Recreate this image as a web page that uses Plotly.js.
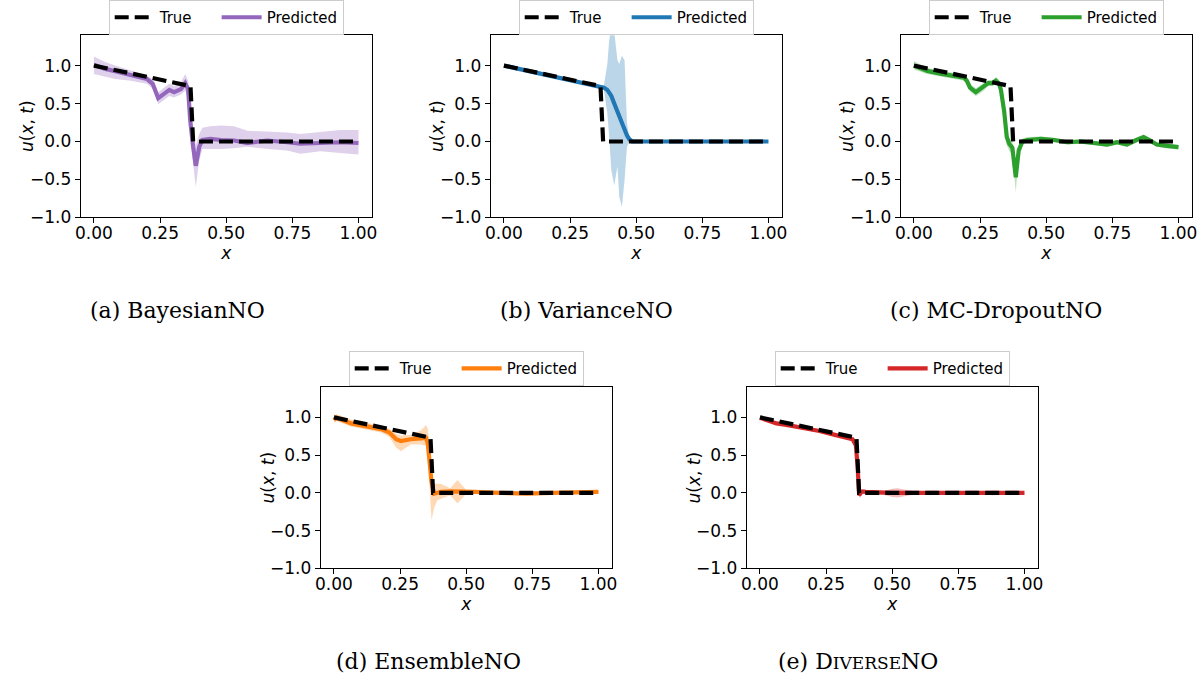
<!DOCTYPE html>
<html><head><meta charset="utf-8">
<script src="https://cdn.plot.ly/plotly-3.0.1.min.js"></script>
<style>html,body{margin:0;padding:0;background:#fff}#chart{width:1202px;height:681px}</style>
</head><body><div id="chart"></div>
<script>
const xTickVals = [0, 0.25, 0.5, 0.75, 1.0];
const xTickText = ['0.00', '0.25', '0.50', '0.75', '1.00'];
const yTickVals = [-1, -0.5, 0, 0.5, 1];
const yTickText = ['\u22121.0', '\u22120.5', '0.0', '0.5', '1.0'];

// True solution
const trueX = [0, 0.365, 0.375, 1.0];
const trueU = [1.0, 0.73, 0.0, 0.0];

// (a) BayesianNO
const bayesX = [0, 0.04, 0.08, 0.14, 0.2, 0.222, 0.243, 0.266, 0.285, 0.303, 0.329, 0.345, 0.356, 0.364, 0.37, 0.375, 0.385, 0.398, 0.41, 0.44, 0.48, 0.53, 0.58, 0.655, 0.73, 0.78, 0.856, 0.93, 1.0];
const bayesMean = [1.01, 0.96, 0.925, 0.88, 0.825, 0.76, 0.57, 0.63, 0.68, 0.65, 0.69, 0.77, 0.69, 0.28, 0.05, -0.07, -0.32, -0.07, 0.02, 0.035, 0.02, 0.013, -0.02, 0.013, -0.01, -0.03, -0.02, -0.01, -0.02];
const bayesUpper = [1.12, 1.05, 1.0, 0.93, 0.87, 0.82, 0.65, 0.71, 0.76, 0.73, 0.78, 0.89, 0.80, 0.45, 0.25, 0.1, -0.05, 0.1, 0.18, 0.2, 0.21, 0.2, 0.14, 0.13, 0.12, 0.1, 0.13, 0.15, 0.15];
const bayesLower = [0.89, 0.86, 0.825, 0.8, 0.76, 0.70, 0.49, 0.55, 0.6, 0.58, 0.62, 0.67, 0.55, 0.1, -0.15, -0.3, -0.6, -0.25, -0.1, -0.1, -0.1, -0.09, -0.07, -0.1, -0.12, -0.16, -0.13, -0.15, -0.17];

// (b) VarianceNO
const varX = [0, 0.1, 0.2, 0.3, 0.365, 0.378, 0.391, 0.397, 0.406, 0.417, 0.429, 0.436, 0.446, 0.456, 0.465, 0.474, 0.485, 0.5, 0.6, 0.7, 0.8, 0.9, 1.0];
const varMean = [1.0, 0.925, 0.85, 0.775, 0.73, 0.71, 0.68, 0.65, 0.60, 0.50, 0.39, 0.33, 0.24, 0.15, 0.08, 0.03, 0.0, 0, 0, 0, 0, 0, 0];
const varUpper = [1.01, 0.935, 0.86, 0.785, 0.74, 0.74, 1.02, 1.3, 1.55, 1.45, 1.07, 1.02, 1.13, 1.07, 0.25, 0.05, 0.01, 0.005, 0.005, 0.005, 0.005, 0.005, 0.005];
const varLower = [0.99, 0.915, 0.84, 0.765, 0.72, 0.68, 0.37, 0.1, -0.38, -0.58, -0.33, -0.73, -0.86, -0.51, -0.07, -0.01, -0.005, -0.005, -0.005, -0.005, -0.005, -0.005, -0.005];

// (c) MC-DropoutNO
const mcX = [0, 0.05, 0.1, 0.15, 0.19, 0.2, 0.212, 0.234, 0.26, 0.281, 0.297, 0.31, 0.322, 0.329, 0.341, 0.351, 0.36, 0.372, 0.385, 0.396, 0.41, 0.43, 0.48, 0.53, 0.58, 0.63, 0.68, 0.73, 0.768, 0.805, 0.837, 0.868, 0.893, 0.918, 0.956, 1.0];
const mcMean = [1.0, 0.93, 0.895, 0.865, 0.84, 0.80, 0.71, 0.65, 0.71, 0.77, 0.77, 0.80, 0.76, 0.68, 0.40, 0.06, -0.03, -0.08, -0.47, -0.12, 0.0, 0.02, 0.035, 0.02, -0.01, 0.0, -0.02, -0.04, -0.01, -0.04, 0.013, 0.057, 0.013, -0.04, -0.057, -0.075];
const mcUpper = [1.06, 0.97, 0.935, 0.905, 0.88, 0.85, 0.76, 0.70, 0.76, 0.81, 0.81, 0.85, 0.81, 0.75, 0.50, 0.15, 0.05, 0.0, -0.3, -0.05, 0.04, 0.06, 0.065, 0.05, 0.02, 0.03, 0.01, -0.01, 0.02, -0.01, 0.045, 0.09, 0.045, -0.01, -0.025, -0.045];
const mcLower = [0.95, 0.89, 0.855, 0.825, 0.80, 0.75, 0.66, 0.60, 0.66, 0.73, 0.73, 0.76, 0.71, 0.60, 0.30, -0.05, -0.12, -0.18, -0.67, -0.2, -0.04, -0.02, 0.005, -0.01, -0.04, -0.03, -0.05, -0.07, -0.04, -0.07, -0.02, 0.02, -0.02, -0.07, -0.09, -0.105];

// (d) EnsembleNO
const ensX = [0, 0.01, 0.065, 0.128, 0.178, 0.21, 0.235, 0.253, 0.29, 0.33, 0.348, 0.355, 0.36, 0.369, 0.379, 0.39, 0.404, 0.44, 0.467, 0.5, 0.53, 0.6, 0.63, 0.7, 0.73, 0.818, 0.9, 1.0];
const ensMean = [0.965, 0.995, 0.92, 0.876, 0.845, 0.80, 0.71, 0.686, 0.71, 0.72, 0.73, 0.65, 0.5, 0.146, -0.01, 0.0, 0.013, 0.02, 0.022, 0.015, 0.013, 0.005, 0, -0.005, -0.01, 0, 0.005, 0.013];
const ensUpper = [1.03, 1.04, 0.97, 0.93, 0.89, 0.85, 0.78, 0.76, 0.77, 0.83, 0.9, 0.85, 0.7, 0.3, 0.12, 0.12, 0.12, 0.06, 0.17, 0.04, 0.035, 0.025, 0.02, 0.015, 0.01, 0.02, 0.025, 0.03];
const ensLower = [0.93, 0.95, 0.88, 0.83, 0.8, 0.74, 0.6, 0.55, 0.64, 0.64, 0.62, 0.45, 0.2, -0.36, -0.2, -0.1, -0.08, -0.03, -0.14, -0.01, -0.01, -0.015, -0.02, -0.025, -0.03, -0.02, -0.015, -0.005];

// (e) DiverseNO
const divX = [0, 0.0625, 0.1, 0.1625, 0.225, 0.2875, 0.35, 0.3625, 0.369, 0.375, 0.385, 0.4, 0.45, 0.48, 0.5, 0.52, 0.55, 0.6, 0.7, 0.8, 0.85, 0.88, 0.92, 1.0];
const divMean = [0.995, 0.92, 0.9, 0.86, 0.82, 0.765, 0.71, 0.63, 0.37, -0.03, 0.02, 0.013, 0.0, 0.0, 0.0, 0.0, 0.0, 0, 0, 0, 0, 0, 0, 0];
const divUpper = [1.015, 0.94, 0.92, 0.88, 0.84, 0.785, 0.73, 0.66, 0.41, 0.01, 0.05, 0.04, 0.02, 0.035, 0.055, 0.06, 0.04, 0.01, 0.008, 0.01, 0.02, 0.03, 0.02, 0.01];
const divLower = [0.975, 0.90, 0.88, 0.84, 0.80, 0.745, 0.69, 0.60, 0.33, -0.07, -0.01, -0.015, -0.02, -0.035, -0.055, -0.06, -0.04, -0.01, -0.008, -0.01, -0.02, -0.03, -0.02, -0.01];

const trueName = 'True\u00a0\u00a0\u00a0\u00a0';
const predName = 'Predicted';

const panels = [
  {x: bayesX, mean: bayesMean, upper: bayesUpper, lower: bayesLower, color: '#9467bd', fill: 'rgba(148,103,189,0.3)', caption: '(a) BayesianNO'},
  {x: varX, mean: varMean, upper: varUpper, lower: varLower, color: '#1f77b4', fill: 'rgba(31,119,180,0.3)', caption: '(b) VarianceNO'},
  {x: mcX, mean: mcMean, upper: mcUpper, lower: mcLower, color: '#2ca02c', fill: 'rgba(44,160,44,0.3)', caption: '(c) MC-DropoutNO'},
  {x: ensX, mean: ensMean, upper: ensUpper, lower: ensLower, color: '#ff7f0e', fill: 'rgba(255,127,14,0.3)', caption: '(d) EnsembleNO'},
  {x: divX, mean: divMean, upper: divUpper, lower: divLower, color: '#d62728', fill: 'rgba(214,39,40,0.3)', caption: '(e) D<span style="font-size:17px">IVERSE</span>NO'}
];

// layout geometry (pixels)
const W = 1202, H = 681;
const boxes = [
  {l: 80.7, r: 371.7, t: 34.3, b: 216.7, cx: 177, cy: 310},
  {l: 490.7, r: 781.7, t: 34.3, b: 216.7, cx: 586, cy: 310},
  {l: 900.7, r: 1191.7, t: 34.3, b: 216.7, cx: 996, cy: 310},
  {l: 320.7, r: 611.7, t: 386.7, b: 568.3, cx: 428, cy: 661},
  {l: 746.7, r: 1037.7, t: 386.7, b: 568.3, cx: 858, cy: 661}
];

const data = [];
const layout = {
  width: W, height: H,
  margin: {l: 0, r: 0, t: 0, b: 0},
  paper_bgcolor: '#fff', plot_bgcolor: '#fff',
  font: {family: 'DejaVu Sans', color: '#000'},
  annotations: []
};

panels.forEach((p, i) => {
  const n = i + 1;
  const xa = n === 1 ? 'x' : 'x' + n;
  const ya = n === 1 ? 'y' : 'y' + n;
  const lg = n === 1 ? 'legend' : 'legend' + n;
  data.push({x: p.x, y: p.lower, xaxis: xa, yaxis: ya, mode: 'lines', line: {width: 0, color: p.fill}, showlegend: false, hoverinfo: 'skip', legend: lg});
  data.push({x: p.x, y: p.upper, xaxis: xa, yaxis: ya, mode: 'lines', line: {width: 0, color: p.fill}, fill: 'tonexty', fillcolor: p.fill, showlegend: false, hoverinfo: 'skip', legend: lg});
  data.push({x: p.x, y: p.mean, xaxis: xa, yaxis: ya, mode: 'lines', name: predName, line: {width: 4.2, color: p.color}, legend: lg});
  data.push({x: trueX, y: trueU, xaxis: xa, yaxis: ya, mode: 'lines', name: trueName, line: {width: 4.2, color: '#000', dash: '14px,6px'}, legend: lg});

  const b = boxes[i];
  const axBase = {
    showline: true, mirror: true, linecolor: '#000', linewidth: 1,
    ticks: 'outside', ticklen: 5, tickwidth: 1, tickcolor: '#000',
    showgrid: false, zeroline: false,
    tickfont: {family: 'DejaVu Sans', size: 17, color: '#000'}
  };
  layout[n === 1 ? 'xaxis' : 'xaxis' + n] = Object.assign({}, axBase, {
    domain: [b.l / W, b.r / W], anchor: ya, range: [-0.05, 1.05],
    tickvals: xTickVals, ticktext: xTickText, ticklabelstandoff: -5,
    title: {text: '<i>x</i>', font: {family: 'DejaVu Sans', size: 17, color: '#000'}, standoff: 0}
  });
  layout[n === 1 ? 'yaxis' : 'yaxis' + n] = Object.assign({}, axBase, {
    domain: [1 - b.b / H, 1 - b.t / H], anchor: xa, range: [-1, 1.4],
    tickvals: yTickVals, ticktext: yTickText
  });
  // y-axis title, placed beside the tick labels
  layout.annotations.push({
    xref: 'paper', yref: 'paper', x: (b.l - 53) / W, y: 1 - (b.t + b.b) / 2 / H,
    xanchor: 'center', yanchor: 'middle', textangle: -90, showarrow: false,
    text: '<i>u</i>(<i>x</i>, <i>t</i>)', font: {family: 'DejaVu Sans', size: 17, color: '#000'}
  });
  layout[lg] = {
    orientation: 'h', x: (b.l + b.r) / 2 / W, xanchor: 'center',
    y: 1 - (b.t - 0.5) / H, yanchor: 'bottom', traceorder: 'reversed',
    bgcolor: 'rgba(255,255,255,0.8)', bordercolor: '#cccccc', borderwidth: 1,
    font: {family: 'DejaVu Sans', size: 15, color: '#000'}, itemwidth: 40
  };
  layout.annotations.push({
    xref: 'paper', yref: 'paper', x: b.cx / W, y: 1 - b.cy / H,
    xanchor: 'center', yanchor: 'middle', showarrow: false,
    text: p.caption, font: {family: 'DejaVu Serif', size: 22, color: '#000'}
  });
});

Plotly.newPlot('chart', data, layout, {displayModeBar: false, staticPlot: true});
</script></body></html>
